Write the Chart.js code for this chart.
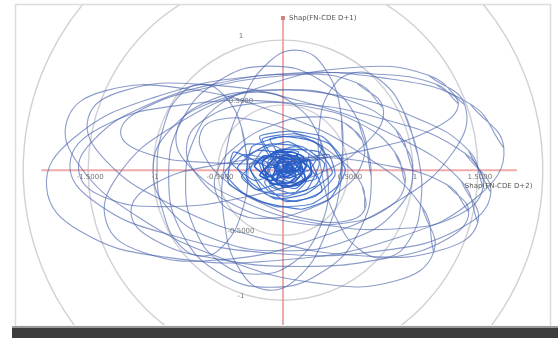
<!DOCTYPE html>
<html>
<head>
<meta charset="utf-8">
<script src="https://cdn.jsdelivr.net/npm/chart.js@4/dist/chart.umd.min.js"></script>
<style>
html,body{margin:0;padding:0;background:#fff;}
#wrap{width:558px;height:338px;position:relative;}
canvas{filter:blur(0.4px);}
</style>
</head>
<body>
<div id="wrap"><canvas id="c" width="558" height="338"></canvas></div>
<script>
// ---- values (data units) ----
const xTickValues = [-1.5, -1, -0.5, 0.5, 1, 1.5];
const xTickLabels = ['-1.5000', '-1', '-0.5000', '0.5000', '1', '1.5000'];
const yTickValues = [1, 0.5, -0.5, -1];
const yTickLabels = ['1', '0.5000', '-0.5000', '-1'];
const ringValues = [0.5, 1, 1.5, 2];
const xTitle = 'Shap(FN-CDE D+2)';
const yTitle = 'Shap(FN-CDE D+1)';

const loopA = [[1.70,0.17],[1.44,0.51],[0.77,0.71],[-0.12,0.73],[-0.99,0.56],[-1.62,0.24],[-1.82,-0.13],[-1.56,-0.47],[-0.89,-0.67],[0.00,-0.69],[0.88,-0.52],[1.50,-0.20]];
const loopB = [[1.60,-0.17],[1.40,0.13],[0.82,0.38],[0.02,0.52],[-0.79,0.50],[-1.40,0.33],[-1.64,0.05],[-1.44,-0.25],[-0.86,-0.50],[-0.06,-0.64],[0.75,-0.62],[1.36,-0.45]];
const loopC = [[1.40,0.50],[1.12,0.73],[0.54,0.79],[-0.17,0.64],[-0.84,0.34],[-1.27,-0.04],[-1.36,-0.40],[-1.08,-0.63],[-0.50,-0.69],[0.21,-0.54],[0.88,-0.24],[1.31,0.14]];
const loopD = [[1.50,-0.40],[1.37,-0.08],[0.87,0.26],[0.14,0.53],[-0.63,0.66],[-1.23,0.61],[-1.50,0.40],[-1.37,0.08],[-0.87,-0.26],[-0.14,-0.53],[0.63,-0.66],[1.23,-0.61]];
const loopE = [[0.45,-0.06],[0.45,0.41],[0.33,0.77],[0.13,0.92],[-0.11,0.83],[-0.32,0.51],[-0.45,0.06],[-0.45,-0.41],[-0.33,-0.77],[-0.13,-0.92],[0.11,-0.83],[0.32,-0.51]];
const loopF = [[-0.27,0.00],[-0.32,0.33],[-0.45,0.57],[-0.62,0.66],[-0.80,0.57],[-0.92,0.33],[-0.97,0.00],[-0.92,-0.33],[-0.80,-0.57],[-0.62,-0.66],[-0.45,-0.57],[-0.32,-0.33]];
const loopG = [[1.04,0.11],[0.93,0.45],[0.75,0.69],[0.55,0.75],[0.37,0.62],[0.28,0.34],[0.30,-0.03],[0.41,-0.37],[0.59,-0.61],[0.80,-0.67],[0.97,-0.54],[1.06,-0.26]];
const loopH = [[1.00,0.00],[0.87,0.31],[0.50,0.54],[0.00,0.62],[-0.50,0.54],[-0.87,0.31],[-1.00,0.00],[-0.87,-0.31],[-0.50,-0.54],[0.00,-0.62],[0.50,-0.54],[0.87,-0.31]];
const loopI = [[1.43,-0.32],[1.26,-0.11],[0.78,0.04],[0.13,0.10],[-0.52,0.04],[-1.00,-0.11],[-1.17,-0.32],[-1.00,-0.53],[-0.52,-0.68],[0.13,-0.74],[0.78,-0.68],[1.26,-0.53]];
const loopJ = [[1.35,0.51],[1.18,0.66],[0.70,0.74],[0.05,0.73],[-0.60,0.63],[-1.08,0.47],[-1.25,0.29],[-1.08,0.14],[-0.60,0.06],[0.05,0.07],[0.70,0.17],[1.18,0.33]];
const loopK = [[0.68,-0.05],[0.58,0.38],[0.29,0.69],[-0.10,0.80],[-0.49,0.69],[-0.78,0.38],[-0.88,-0.05],[-0.78,-0.48],[-0.49,-0.79],[-0.10,-0.90],[0.29,-0.79],[0.58,-0.48]];
const loopL = [[1.16,-0.63],[1.07,-0.28],[0.63,0.11],[-0.04,0.44],[-0.78,0.63],[-1.37,0.61],[-1.66,0.39],[-1.57,0.04],[-1.13,-0.35],[-0.46,-0.68],[0.28,-0.87],[0.87,-0.85]];
const loopM = [[0.77,0.48],[0.57,0.67],[0.11,0.74],[-0.49,0.67],[-1.07,0.49],[-1.46,0.23],[-1.57,-0.02],[-1.37,-0.21],[-0.91,-0.28],[-0.31,-0.21],[0.27,-0.03],[0.66,0.23]];
const loopN = [[1.54,-0.13],[1.43,0.15],[1.03,0.40],[0.45,0.57],[-0.16,0.61],[-0.62,0.51],[-0.82,0.29],[-0.71,0.02],[-0.31,-0.24],[0.27,-0.41],[0.88,-0.45],[1.34,-0.35]];
const loopO = [[0.61,0.23],[0.48,0.36],[0.23,0.41],[-0.07,0.35],[-0.34,0.20],[-0.50,0.01],[-0.51,-0.19],[-0.38,-0.32],[-0.13,-0.37],[0.17,-0.31],[0.44,-0.16],[0.60,0.03]];
const loopP = [[0.63,-0.30],[0.61,-0.12],[0.43,0.09],[0.13,0.27],[-0.21,0.38],[-0.49,0.39],[-0.63,0.30],[-0.61,0.12],[-0.43,-0.09],[-0.13,-0.27],[0.21,-0.38],[0.49,-0.39]];
const loopQ = [[0.94,-0.10],[0.86,0.14],[0.59,0.36],[0.18,0.49],[-0.25,0.51],[-0.59,0.40],[-0.74,0.20],[-0.66,-0.04],[-0.39,-0.26],[0.02,-0.39],[0.45,-0.41],[0.79,-0.30]];
const loopR = [[0.35,-0.10],[0.28,0.25],[0.08,0.51],[-0.20,0.60],[-0.48,0.51],[-0.68,0.25],[-0.75,-0.10],[-0.68,-0.45],[-0.48,-0.71],[-0.20,-0.80],[0.08,-0.71],[0.28,-0.45]];
const corePath = [[0.02,0.05],[0.15,0.10],[0.22,-0.03],[0.05,-0.12],[-0.12,-0.02],[-0.05,0.14],[0.10,0.18],[0.28,0.06],[0.18,-0.15],[-0.08,-0.18],[-0.25,0.00],[-0.15,0.16],[0.04,0.22],[0.20,0.12],[0.12,-0.06],[-0.03,0.02],[-0.18,0.08],[-0.32,-0.05],[-0.20,-0.15],[0.00,-0.08],[0.08,0.06],[0.35,0.12],[0.40,-0.04],[0.25,-0.20],[0.02,-0.24],[-0.14,-0.10],[-0.06,0.08],[0.06,0.12],[0.14,0.02],[0.06,-0.04],[-0.02,0.10],[-0.10,0.24],[0.12,0.26],[0.30,0.18],[0.20,0.00],[0.00,-0.02],[-0.22,-0.08],[-0.40,0.06],[-0.28,0.20],[-0.05,0.18],[0.10,0.08],[0.18,-0.08],[0.08,-0.18],[-0.10,-0.12],[-0.04,0.00],[0.05,0.04],[0.12,0.14],[-0.02,0.16],[-0.12,0.06],[-0.08,-0.06],[0.04,-0.10],[0.16,-0.02],[0.10,0.04],[0.00,0.06],[-0.30,0.12],[-0.45,-0.02],[-0.30,-0.18],[-0.05,-0.28],[0.22,-0.26],[0.42,-0.12],[0.45,0.10],[0.30,0.26],[0.05,0.30],[-0.18,0.26],[-0.06,0.04],[0.03,0.00]];
const coreMid = [[-0.30,0.10],[-0.10,0.20],[0.15,0.18],[0.32,0.05],[0.25,-0.12],[0.02,-0.20],[-0.22,-0.14],[-0.35,0.02],[-0.20,0.15],[0.05,0.12],[0.22,0.00],[0.10,-0.14],[-0.12,-0.08],[-0.18,0.06],[0.00,0.16],[0.28,0.14],[0.38,-0.02],[0.18,-0.18],[-0.06,-0.22],[-0.28,-0.06],[-0.24,0.18],[0.00,0.26],[0.24,0.22],[0.34,0.10],[0.14,0.06],[-0.04,-0.04],[0.08,-0.10],[0.26,-0.06],[0.12,0.10],[-0.08,0.12],[-0.26,0.04],[-0.14,-0.18],[0.10,-0.24],[0.30,-0.16],[0.20,0.08],[-0.02,0.08],[-0.16,-0.02],[-0.04,-0.14],[0.16,-0.08],[0.06,0.04],[-0.10,0.02],[-0.38,0.14],[-0.42,-0.10],[-0.18,-0.24],[0.14,-0.30],[0.36,-0.22],[0.48,0.00],[0.36,0.20],[0.10,0.28],[-0.16,0.24],[-0.02,0.02]];
const coreInner = [[0.00,0.02],[0.08,0.07],[0.14,-0.02],[0.04,-0.06],[-0.06,0.01],[-0.02,0.09],[0.10,0.11],[0.18,0.03],[0.09,-0.09],[-0.04,-0.10],[-0.14,0.00],[-0.08,0.08],[0.03,0.12],[0.12,0.05],[0.06,-0.03],[-0.02,0.00],[-0.10,0.05],[-0.18,-0.04],[-0.09,-0.08],[0.01,-0.04],[0.05,0.04],[0.20,0.08],[0.22,-0.03],[0.13,-0.11],[0.00,-0.13],[-0.08,-0.05],[-0.03,0.05],[0.04,0.07],[0.09,0.00],[0.03,-0.02],[-0.01,0.06],[-0.06,0.13],[0.07,0.14],[0.16,0.10],[0.11,0.00],[0.00,-0.01],[-0.12,-0.05],[-0.22,0.03],[-0.15,0.11],[-0.03,0.10],[0.06,0.04],[0.10,-0.05],[0.04,-0.10],[-0.05,-0.07],[-0.02,0.00],[0.03,0.02],[0.07,0.08],[-0.01,0.09],[-0.07,0.03],[-0.04,-0.03],[0.02,-0.06],[0.09,-0.01],[0.05,0.02],[0.00,0.03],[0.12,0.09],[0.17,-0.06],[0.07,-0.12],[-0.10,-0.10],[-0.16,0.06],[-0.05,0.15],[0.10,0.13],[0.14,0.02],[0.02,-0.05],[-0.06,0.04],[0.01,0.07],[0.06,0.00]];

const loops = [loopA, loopB, loopC, loopD, loopE, loopF, loopG, loopH, loopI, loopJ, loopK, loopL, loopM, loopN, loopO, loopP, loopQ, loopR];

const toPts = arr => arr.map(p => ({x: p[0], y: p[1]}));
const datasets = loops.map(l => ({
  data: toPts(l.concat([l[0], l[1]])),
  showLine: true, pointRadius: 0, borderWidth: 1.1, tension: 0.45,
  borderColor: 'rgba(70,95,170,0.62)'
}));
datasets.push({
  data: toPts(corePath), showLine: true, pointRadius: 0, borderWidth: 1.2, tension: 0.15,
  borderColor: 'rgba(40,95,195,0.75)'
});
datasets.push({
  data: toPts(coreMid), showLine: true, pointRadius: 0, borderWidth: 1.2, tension: 0.15,
  borderColor: 'rgba(35,90,200,0.8)'
});
datasets.push({
  data: toPts(coreInner), showLine: true, pointRadius: 0, borderWidth: 1.6, tension: 0.1,
  borderColor: 'rgba(20,80,200,0.9)'
});

const decor = {
  id: 'decor',
  beforeDraw(chart) {
    const ctx = chart.ctx;
    ctx.save();
    ctx.fillStyle = '#ffffff';
    ctx.fillRect(0, 0, chart.width, chart.height);
    ctx.strokeStyle = '#dcdcdc';
    ctx.lineWidth = 1.5;
    ctx.strokeRect(15.5, 4.5, 535, 322);
    ctx.fillStyle = '#3c3c3c';
    ctx.fillRect(12, 328, 546, 10);
    ctx.fillStyle = '#9a9a9a';
    ctx.fillRect(12, 326, 546, 2);
    ctx.restore();
  },
  beforeDatasetsDraw(chart) {
    const {ctx, chartArea: a, scales: {x, y}} = chart;
    ctx.save();
    ctx.beginPath();
    ctx.rect(a.left, a.top, a.right - a.left, a.bottom - a.top);
    ctx.clip();
    const cx = x.getPixelForValue(0), cy = y.getPixelForValue(0);
    ctx.strokeStyle = 'rgba(200,200,208,0.85)';
    ctx.lineWidth = 1.4;
    ringValues.forEach(r => {
      const rx = x.getPixelForValue(r) - cx;
      const ry = cy - y.getPixelForValue(r);
      ctx.beginPath();
      ctx.ellipse(cx, cy, rx, ry, 0, 0, Math.PI * 2);
      ctx.stroke();
    });
    ctx.strokeStyle = 'rgba(235,150,150,0.8)';
    ctx.lineWidth = 2;
    ctx.beginPath();
    ctx.moveTo(x.getPixelForValue(-1.86), cy);
    ctx.lineTo(x.getPixelForValue(1.80), cy);
    ctx.moveTo(cx, y.getPixelForValue(1.17));
    ctx.lineTo(cx, y.getPixelForValue(-1.19));
    ctx.stroke();
    ctx.fillStyle = 'rgba(200,120,120,0.9)';
    ctx.fillRect(cx - 2, y.getPixelForValue(1.17) - 2, 4, 4);
    ctx.restore();
  },
  afterDatasetsDraw(chart) {
    const {ctx, scales: {x, y}} = chart;
    const cx = x.getPixelForValue(0), cy = y.getPixelForValue(0);
    ctx.save();
    ctx.font = '7px "DejaVu Sans", sans-serif';
    ctx.fillStyle = '#777';
    ctx.textAlign = 'center';
    ctx.textBaseline = 'middle';
    xTickValues.forEach((v, i) => {
      ctx.fillText(xTickLabels[i], x.getPixelForValue(v) + 2, cy + 7);
    });
    yTickValues.forEach((v, i) => {
      ctx.fillText(yTickLabels[i], cx - 42, y.getPixelForValue(v) - 4);
    });
    ctx.fillStyle = '#555';
    ctx.textAlign = 'left';
    ctx.fillText(yTitle, cx + 6, y.getPixelForValue(1.17));
    ctx.fillText(xTitle, x.getPixelForValue(1.40), cy + 16);
    ctx.restore();
  }
};

new Chart(document.getElementById('c'), {
  type: 'scatter',
  data: {datasets},
  options: {
    responsive: false,
    animation: false,
    events: [],
    layout: {padding: {left: 18, right: 10, top: 5, bottom: 13}},
    plugins: {legend: {display: false}, tooltip: {enabled: false}},
    scales: {
      x: {display: false, min: -2.04, max: 2.04},
      y: {display: false, min: -1.19, max: 1.27}
    }
  },
  plugins: [decor]
});
</script>
</body>
</html>
